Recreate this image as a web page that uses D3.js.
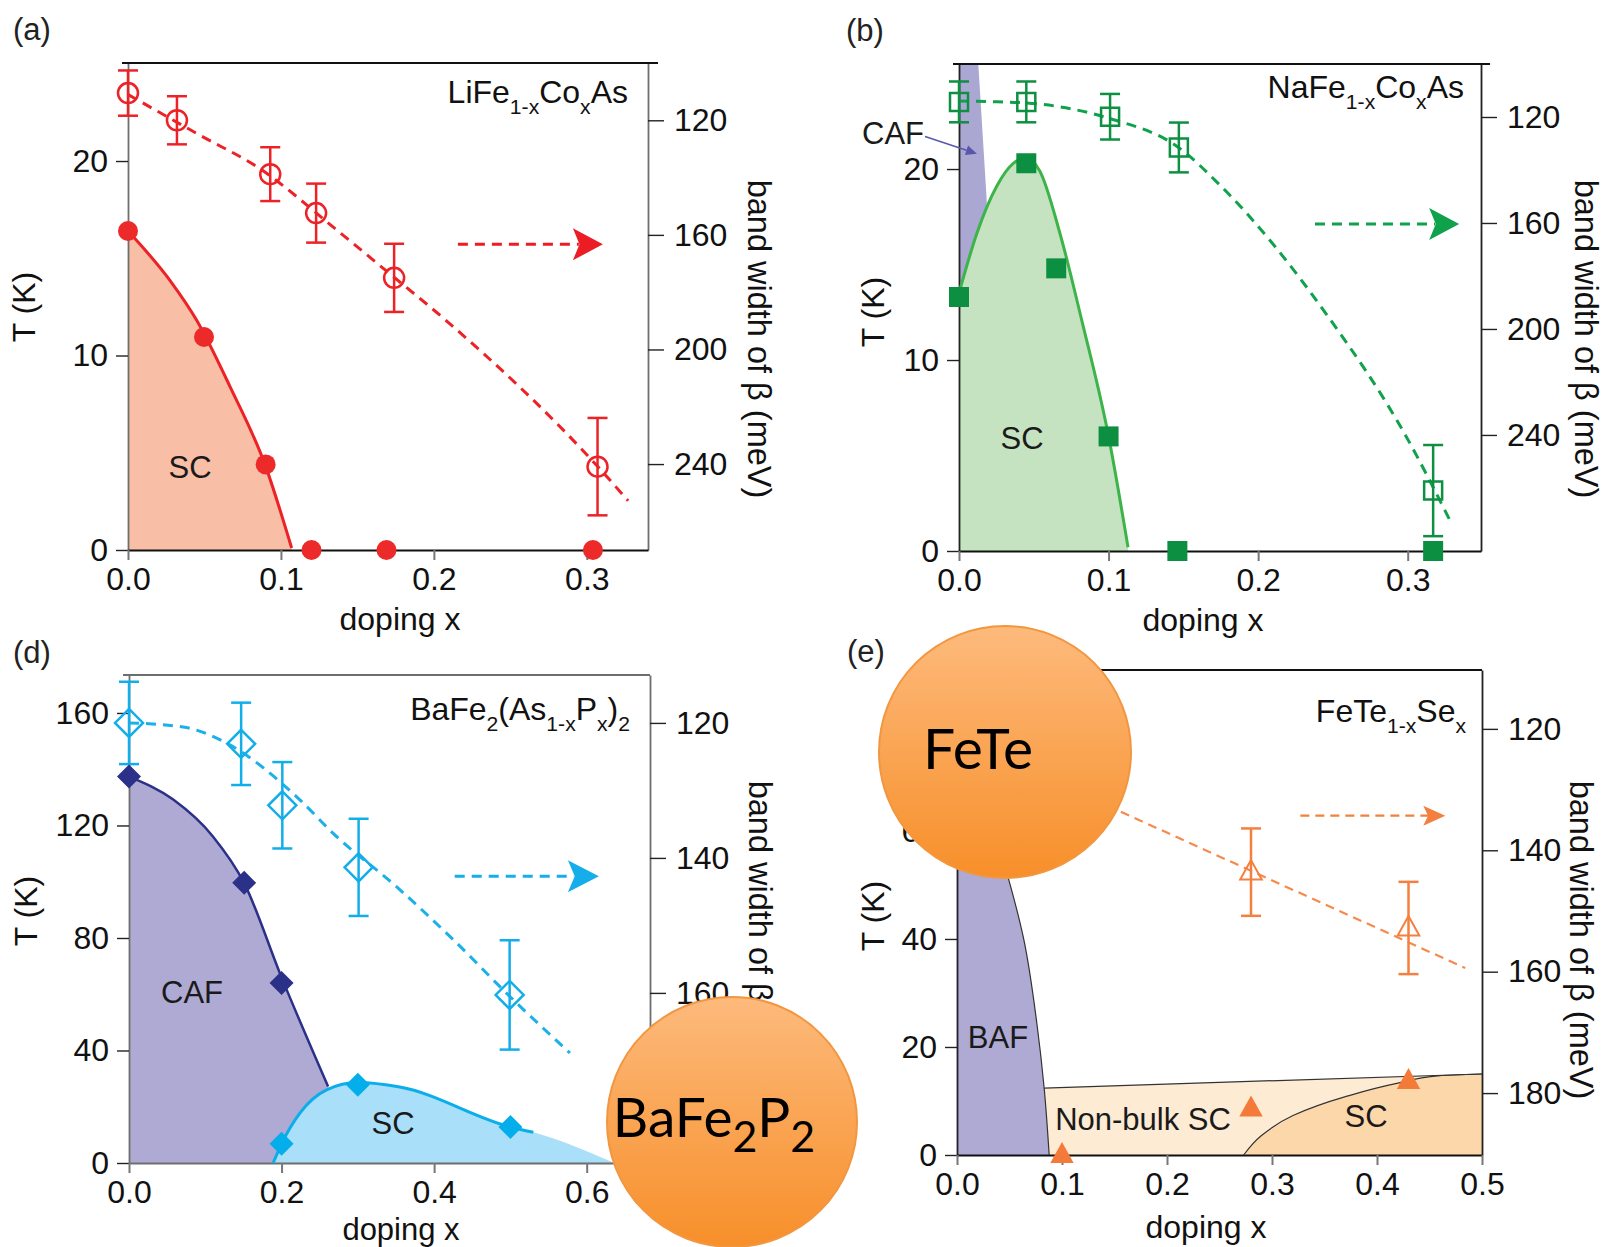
<!DOCTYPE html>
<html>
<head>
<meta charset="utf-8">
<script src="https://cdn.jsdelivr.net/npm/d3@7"></script>
<style>
body { margin: 0; background: #fff; }
text { font-family: "Liberation Sans", Arial, sans-serif; }
</style>
</head>
<body>
<div id="chart"></div>
<script>
// ---------- (a) LiFe1-xCoxAs ----------
var aDopingTc = [0, 0.0497, 0.09, 0.12, 0.169, 0.304];
var aTc = [16.4, 10.95, 4.4, 0, 0, 0];
var aDopingBw = [0, 0.032, 0.093, 0.123, 0.174, 0.307];
var aBw = [110.5, 120, 138.8, 152.4, 175, 240.9];
var aBwErr = [7.9, 8.4, 9.4, 10.3, 11.9, 17];
var aScEdge = [[0, 16.4], [0.028, 13.8], [0.045, 11.8], [0.0667, 8.4], [0.09, 4.3], [0.107, 0.1]];
var aBwFit = [[0, 111], [0.047, 125.2], [0.086, 136.8], [0.134, 157.2], [0.171, 173.5], [0.208, 189.9], [0.307, 240.8], [0.327, 252.8]];

// ---------- (b) NaFe1-xCoxAs ----------
var bDopingTc = [0, 0.045, 0.065, 0.1, 0.146, 0.317];
var bTc = [13.3, 20.3, 14.8, 6.0, 0, 0];
var bDopingBw = [0, 0.045, 0.101, 0.147, 0.317];
var bBw = [114.3, 114.3, 119.9, 131.5, 261];
var bBwErr = [7.7, 7.7, 8.6, 9.4, 17.2];
var bScEdge = [[0, 13.5], [0.0118, 16.6], [0.0252, 19.1], [0.0363, 20.3], [0.0446, 20.56], [0.054, 19.9], [0.0676, 16.6], [0.082, 12.1], [0.1, 6.0], [0.113, 0.2]];
var bCafEdge = [[0, 27], [0.0125, 27], [0.0129, 25.5], [0.0185, 18.4], [0.022, 0], [0, 0]];
var bBwFit = [[0, 114], [0.02, 114.2], [0.045, 114.7], [0.099, 120.3], [0.147, 131.6], [0.175, 146], [0.247, 195.5], [0.298, 239.6], [0.328, 272]];

// ---------- (d) BaFe2(As1-xPx)2 ----------
var dDopingCaf = [0, 0.151, 0.2];
var dTn = [137.4, 99.6, 64];
var dDopingSc = [0.2, 0.3, 0.5];
var dTc = [6.8, 27.8, 12.8];
var dDopingBw = [0, 0.147, 0.201, 0.301, 0.499];
var dBw = [120, 123.1, 132.2, 141.4, 160.3];
var dBwErr = [6.1, 6.1, 6.4, 7.2, 8.1];
var dCafEdge = [[0, 137.4], [0.058, 129.2], [0.11, 116.1], [0.151, 99.5], [0.2, 66], [0.261, 27.2]];
var dCafFoot = [[0.306, 0]];
var dScEdge = [[0.189, 0], [0.2, 6.8], [0.224, 17.7], [0.259, 26], [0.3, 28.6], [0.355, 27], [0.499, 12.9], [0.53, 10.9]];
var dScTail = [[0.636, 0]];
var dBwFit = [[0, 120], [0.071, 120.6], [0.128, 123], [0.224, 131.4], [0.268, 136.4], [0.351, 144.3], [0.425, 152.1], [0.499, 160.5], [0.578, 168.9]];

// ---------- (e) FeTe1-xSex ----------
var eDopingTc = [0.1, 0.28, 0.43];
var eTc = [0, 8.6, 13.7];
var eDopingBw = [0.28, 0.43];
var eBw = [143.6, 152.8];
var eBwErr = [7.2, 7.6];
var eBwFit = [[0, 121.4], [0.484, 159.4]];
var eBafEdge = [[0, 72], [0.025, 66], [0.0488, 51.3], [0.0634, 40.1], [0.0761, 24.3], [0.083, 12.4], [0.0878, 0]];
var eNonBulkTop = [[0.083, 12.4], [0.5, 15]];
var eScEdge = [[0.273, 0], [0.29, 3.6], [0.32, 7.3], [0.37, 10.8], [0.42, 13.3], [0.46, 14.7], [0.5, 15]];

var width = 1605, height = 1247;
var FS = 32;

var svg = d3.select("#chart").append("svg")
	.attr("width", width)
	.attr("height", height);

svg.append("rect").attr("width", width).attr("height", height).attr("fill", "#fff");

var defs = svg.append("defs");
var grad = defs.append("linearGradient")
	.attr("id", "orange")
	.attr("x1", 0).attr("y1", 0).attr("x2", 0).attr("y2", 1);
grad.append("stop").attr("offset", "0%").attr("stop-color", "#fdba7c");
grad.append("stop").attr("offset", "100%").attr("stop-color", "#f78f2a");

function zip(xs, ys) {
	return xs.map(function(d, i) { return [d, ys[i]]; });
}

function makePanel(p) {
	var x = d3.scaleLinear().domain(p.xDomain).range([p.left, p.right]);
	var yT = d3.scaleLinear().domain(p.tDomain).range([p.bottom, p.top]);
	var yB = d3.scaleLinear().domain(p.bwDomain).range([p.top, p.bottom]);
	var g = svg.append("g");
	defs.append("clipPath").attr("id", "clip-" + p.id)
		.append("rect")
		.attr("x", p.left).attr("y", p.top)
		.attr("width", p.right - p.left).attr("height", p.bottom - p.top);
	var fills = g.append("g").attr("clip-path", "url(#clip-" + p.id + ")");
	return { p: p, x: x, yT: yT, yB: yB, g: g, fills: fills };
}

function tLine(pn, curve) {
	return d3.line()
		.x(function(d) { return pn.x(d[0]); })
		.y(function(d) { return pn.yT(d[1]); })
		.curve(curve || d3.curveMonotoneX);
}

function bLine(pn) {
	return d3.line()
		.x(function(d) { return pn.x(d[0]); })
		.y(function(d) { return pn.yB(d[1]); })
		.curve(d3.curveMonotoneX);
}

function tArea(pn, curve) {
	return d3.area()
		.x(function(d) { return pn.x(d[0]); })
		.y0(pn.yT(0))
		.y1(function(d) { return pn.yT(d[1]); })
		.curve(curve || d3.curveMonotoneX);
}

function drawAxes(pn) {
	var p = pn.p;
	var g = pn.g.append("g");

	var left = g.append("g").attr("transform", "translate(" + p.left + ",0)");
	left.call(d3.axisLeft(pn.yT).tickValues(p.tMinor).tickSize(9).tickSizeOuter(0).tickFormat(""));
	left.call(d3.axisLeft(pn.yT).tickValues(p.tMajor).tickSize(12).tickSizeOuter(0).tickPadding(8));

	var right = g.append("g").attr("transform", "translate(" + p.right + ",0)");
	right.call(d3.axisRight(pn.yB).tickValues(p.bwMinor).tickSize(10).tickSizeOuter(0).tickFormat(""));
	right.call(d3.axisRight(pn.yB).tickValues(p.bwMajor).tickSize(16).tickSizeOuter(0).tickPadding(10));

	var bottom = g.append("g").attr("transform", "translate(0," + p.bottom + ")");
	bottom.call(d3.axisBottom(pn.x).tickValues(p.xTicks).tickSize(10).tickSizeOuter(0)
		.tickPadding(7).tickFormat(d3.format(".1f")));

	g.selectAll(".domain").attr("stroke", p.axisColor).attr("stroke-width", 1.8);
	g.selectAll(".tick line").attr("stroke", "#222").attr("stroke-width", 1.4);
	bottom.selectAll(".tick line").attr("stroke", "#777").attr("stroke-width", 2);
	bottom.select(".domain").attr("stroke", p.bottomColor);
	g.selectAll("text").attr("font-size", FS).attr("fill", "#111");

	g.append("line")
		.attr("x1", p.left - 6).attr("x2", p.right + p.topExtra)
		.attr("y1", p.top).attr("y2", p.top)
		.attr("stroke", p.topColor).attr("stroke-width", 1.8);

	// axis titles
	g.append("text")
		.attr("transform", "translate(" + p.tLabel[0] + "," + p.tLabel[1] + ") rotate(-90)")
		.attr("text-anchor", "middle").attr("dy", "0.35em")
		.attr("font-size", FS).attr("fill", "#111")
		.text("T (K)");
	g.append("text")
		.attr("x", p.xLabel[0]).attr("y", p.xLabel[1])
		.attr("text-anchor", "middle")
		.attr("font-size", p.xLabel[2] || FS).attr("fill", "#111")
		.text("doping x");
	g.append("text")
		.attr("transform", "translate(" + p.bwLabel[0] + "," + p.bwLabel[1] + ") rotate(90)")
		.attr("text-anchor", "middle").attr("dy", "0.35em")
		.attr("font-size", 32.5).attr("fill", "#111")
		.text("band width of β (meV)");
	g.append("text")
		.attr("x", p.letter[0]).attr("y", p.letter[1])
		.attr("font-size", 31).attr("fill", "#222")
		.text(p.letterText);
}

function richText(sel, x, y, parts, size, anchor) {
	var t = sel.append("text")
		.attr("x", x).attr("y", y)
		.attr("text-anchor", anchor || "end")
		.attr("font-size", size).attr("fill", "#111");
	var shifted = false;
	parts.forEach(function(part) {
		var ts = t.append("tspan").text(part[0]);
		if (part[1] && !shifted) {
			ts.attr("dy", size * 0.33).attr("font-size", size * 0.66);
			shifted = true;
		} else if (part[1]) {
			ts.attr("font-size", size * 0.66);
		} else if (shifted) {
			ts.attr("dy", -size * 0.33);
			shifted = false;
		}
	});
	return t;
}

function label(sel, x, y, txt, size) {
	sel.append("text")
		.attr("x", x).attr("y", y)
		.attr("text-anchor", "middle").attr("dy", "0.35em")
		.attr("font-size", size || 31).attr("fill", "#1a1a1a")
		.text(txt);
}

function shapePath(shape, cx, cy, r) {
	if (shape === "diamond") {
		return "M" + cx + "," + (cy - r) + "L" + (cx + r) + "," + cy + "L" + cx + "," + (cy + r) + "L" + (cx - r) + "," + cy + "Z";
	}
	if (shape === "triangle") {
		return "M" + cx + "," + (cy - r) + "L" + (cx + r * 0.9) + "," + (cy + r * 0.62) + "L" + (cx - r * 0.9) + "," + (cy + r * 0.62) + "Z";
	}
	if (shape === "square") {
		return "M" + (cx - r) + "," + (cy - r) + "h" + (2 * r) + "v" + (2 * r) + "h" + (-2 * r) + "Z";
	}
	// circle
	return "M" + (cx - r) + "," + cy + "a" + r + "," + r + " 0 1,0 " + (2 * r) + ",0a" + r + "," + r + " 0 1,0 " + (-2 * r) + ",0";
}

function markers(pn, data, yScale, shape, r, color, filled, sw) {
	pn.g.append("g").selectAll("path")
		.data(data)
		.enter().append("path")
		.attr("d", function(d) {
			return shapePath(shape, pn.x(d[0]), yScale(d[1]), r);
		})
		.attr("fill", filled ? color : "none")
		.attr("stroke", filled ? "none" : color)
		.attr("stroke-width", sw || 2.5);
}

function errorBars(pn, xs, ys, errs, color, cap) {
	var g = pn.g.append("g").attr("stroke", color).attr("stroke-width", 2.5);
	xs.forEach(function(xv, i) {
		var cx = pn.x(xv);
		var y0 = pn.yB(ys[i] - errs[i]), y1 = pn.yB(ys[i] + errs[i]);
		g.append("line").attr("x1", cx).attr("x2", cx).attr("y1", y0).attr("y2", y1);
		g.append("line").attr("x1", cx - cap).attr("x2", cx + cap).attr("y1", y0).attr("y2", y0);
		g.append("line").attr("x1", cx - cap).attr("x2", cx + cap).attr("y1", y1).attr("y2", y1);
	});
}

function arrow(pn, x0, x1, bw, color, len, half, sw, dash) {
	var y = pn.yB(bw), xs = pn.x(x0), xe = pn.x(x1);
	pn.g.append("line")
		.attr("x1", xs).attr("x2", xe - len + 6)
		.attr("y1", y).attr("y2", y)
		.attr("stroke", color).attr("stroke-width", sw)
		.attr("stroke-dasharray", dash);
	pn.g.append("path")
		.attr("d", "M" + xe + "," + y + "L" + (xe - len) + "," + (y - half) + "L" + (xe - len * 0.78) + "," + y + "L" + (xe - len) + "," + (y + half) + "Z")
		.attr("fill", color);
}

function dashed(pn, pts, color, sw, dash) {
	pn.g.append("path")
		.attr("d", bLine(pn)(pts))
		.attr("fill", "none").attr("stroke", color)
		.attr("stroke-width", sw).attr("stroke-dasharray", dash);
}

// ================= panel (a) =================
var pa = makePanel({
	id: "a", left: 128, right: 648, top: 63, bottom: 550,
	xDomain: [0, 0.34], tDomain: [0, 25.04], bwDomain: [100, 270],
	tMajor: [0, 10, 20], tMinor: [5, 15],
	bwMajor: [120, 160, 200, 240], bwMinor: [140, 180, 220, 260],
	xTicks: [0, 0.1, 0.2, 0.3],
	axisColor: "#6e6e6e", bottomColor: "#111", topColor: "#111", topExtra: 10,
	tLabel: [24, 307], xLabel: [400, 630], bwLabel: [759, 339],
	letter: [13, 40], letterText: "(a)"
});
pa.fills.append("path").attr("d", tArea(pa)(aScEdge)).attr("fill", "#f8bea6");
drawAxes(pa);
pa.g.append("path").attr("d", tLine(pa)(aScEdge)).attr("fill", "none").attr("stroke", "#ec2227").attr("stroke-width", 3);
dashed(pa, aBwFit, "#ec2227", 3, "10,7");
arrow(pa, 0.2157, 0.3105, 163.3, "#ec1c24", 30, 16, 3, "10,7");
errorBars(pa, aDopingBw, aBw, aBwErr, "#ec2227", 10);
markers(pa, zip(aDopingBw, aBw), pa.yB, "circle", 10, "#ec2227", false);
markers(pa, zip(aDopingTc, aTc), pa.yT, "circle", 10, "#ec2a2a", true);
richText(pa.g, 628, 103, [["LiFe", 0], ["1-x", 1], ["Co", 0], ["x", 1], ["As", 0]], 32);
label(pa.g, 190, 467, "SC");

// ================= panel (b) =================
var pb = makePanel({
	id: "b", left: 959, right: 1481, top: 64, bottom: 551,
	xDomain: [0, 0.349], tDomain: [0, 25.5], bwDomain: [100, 283.8],
	tMajor: [0, 10, 20], tMinor: [5, 15, 25],
	bwMajor: [120, 160, 200, 240], bwMinor: [140, 180, 220, 260],
	xTicks: [0, 0.1, 0.2, 0.3],
	axisColor: "#222", bottomColor: "#111", topColor: "#111", topExtra: 9,
	tLabel: [873, 312], xLabel: [1203, 631], bwLabel: [1586, 339],
	letter: [846, 41], letterText: "(b)"
});
pb.fills.append("path").attr("d", tLine(pb, d3.curveLinear)(bCafEdge)).attr("fill", "#aba7d3");
pb.fills.append("path").attr("d", tArea(pb)(bScEdge)).attr("fill", "#c6e3c1");
drawAxes(pb);
pb.g.append("path").attr("d", tLine(pb)(bScEdge)).attr("fill", "none").attr("stroke", "#3cb44a").attr("stroke-width", 3);
dashed(pb, bBwFit, "#0fa14c", 3, "10,7");
arrow(pb, 0.238, 0.3344, 160.4, "#0fa14c", 30, 16, 3, "10,7");
errorBars(pb, bDopingBw, bBw, bBwErr, "#0e8f42", 10);
markers(pb, zip(bDopingBw, bBw), pb.yB, "square", 9, "#0e8f42", false);
markers(pb, zip(bDopingTc, bTc), pb.yT, "square", 10, "#0d8f41", true);
richText(pb.g, 1464, 98, [["NaFe", 0], ["1-x", 1], ["Co", 0], ["x", 1], ["As", 0]], 32);
label(pb.g, 1022, 438, "SC");
label(pb.g, 893, 133, "CAF");
// CAF pointer
(function() {
	var x0 = pb.x(-0.0227), y0 = pb.yT(21.7), x1 = pb.x(0.012), y1 = pb.yT(20.8);
	var ang = Math.atan2(y1 - y0, x1 - x0), L = 11, H = 5;
	pb.g.append("line").attr("x1", x0).attr("y1", y0).attr("x2", x1 - L * Math.cos(ang)).attr("y2", y1 - L * Math.sin(ang))
		.attr("stroke", "#5a57ab").attr("stroke-width", 1.5);
	pb.g.append("path")
		.attr("d", "M" + x1 + "," + y1 +
			"L" + (x1 - L * Math.cos(ang) + H * Math.sin(ang)) + "," + (y1 - L * Math.sin(ang) - H * Math.cos(ang)) +
			"L" + (x1 - L * Math.cos(ang) - H * Math.sin(ang)) + "," + (y1 - L * Math.sin(ang) + H * Math.cos(ang)) + "Z")
		.attr("fill", "#5a57ab");
})();

// ================= panel (d) =================
var pd = makePanel({
	id: "d", left: 129, right: 650, top: 675, bottom: 1163,
	xDomain: [0, 0.683], tDomain: [0, 173.5], bwDomain: [112.9, 185.2],
	tMajor: [0, 40, 80, 120, 160], tMinor: [20, 60, 100, 140],
	bwMajor: [120, 140, 160, 180], bwMinor: [130, 150, 170],
	xTicks: [0, 0.2, 0.4, 0.6],
	axisColor: "#6e6e6e", bottomColor: "#6e6e6e", topColor: "#6e6e6e", topExtra: 0,
	tLabel: [26, 911], xLabel: [401, 1240, 31], bwLabel: [760, 940],
	letter: [13, 663], letterText: "(d)"
});
pd.fills.append("path").attr("d", tArea(pd)(dCafEdge.concat(dCafFoot))).attr("fill", "#aeaad3");
pd.fills.append("path").attr("d", tArea(pd)(dScEdge.concat(dScTail))).attr("fill", "#a9dff8");
drawAxes(pd);
pd.g.append("path").attr("d", tLine(pd)(dCafEdge)).attr("fill", "none").attr("stroke", "#2b3088").attr("stroke-width", 2.5);
pd.g.append("path").attr("d", tLine(pd)(dScEdge)).attr("fill", "none").attr("stroke", "#0aaeea").attr("stroke-width", 3);
dashed(pd, dBwFit, "#1cb0ea", 3, "10,7");
arrow(pd, 0.427, 0.616, 142.7, "#16aeea", 31, 16, 3, "10,7");
errorBars(pd, dDopingBw, dBw, dBwErr, "#12aeea", 10);
markers(pd, zip(dDopingBw, dBw), pd.yB, "diamond", 14, "#12aeea", false);
markers(pd, zip(dDopingCaf, dTn), pd.yT, "diamond", 12, "#2b3088", true);
markers(pd, zip(dDopingSc, dTc), pd.yT, "diamond", 12, "#04aeea", true);
richText(pd.g, 630, 720, [["BaFe", 0], ["2", 1], ["(As", 0], ["1-x", 1], ["P", 0], ["x", 1], [")", 0], ["2", 1]], 32);
label(pd.g, 192, 992, "CAF");
label(pd.g, 393, 1123, "SC");

// ================= panel (e) =================
var pe = makePanel({
	id: "e", left: 957, right: 1482, top: 670, bottom: 1155,
	xDomain: [0, 0.5], tDomain: [0, 89.8], bwDomain: [110.3, 190.2],
	tMajor: [0, 20, 40, 60, 80], tMinor: [10, 30, 50, 70],
	bwMajor: [120, 140, 160, 180], bwMinor: [130, 150, 170],
	xTicks: [0, 0.1, 0.2, 0.3, 0.4, 0.5],
	axisColor: "#222", bottomColor: "#111", topColor: "#111", topExtra: 0,
	tLabel: [873, 916], xLabel: [1206, 1238], bwLabel: [1581, 940],
	letter: [847, 662], letterText: "(e)"
});
pe.fills.append("path").attr("d", tArea(pe, d3.curveLinear)(eNonBulkTop.concat([[0.5, 15]]))).attr("fill", "#fdebd3");
pe.fills.append("path").attr("d", tLine(pe, d3.curveLinear)(eScEdge.concat([[0.5, 0]]))).attr("fill", "#fcd7a9");
pe.fills.append("path").attr("d", tArea(pe, d3.curveMonotoneY)(eBafEdge)).attr("fill", "#aeaad3");
drawAxes(pe);
pe.g.append("path").attr("d", tLine(pe, d3.curveMonotoneY)(eBafEdge)).attr("fill", "none").attr("stroke", "#333").attr("stroke-width", 1.2);
pe.g.append("path").attr("d", tLine(pe, d3.curveLinear)(eNonBulkTop)).attr("fill", "none").attr("stroke", "#333").attr("stroke-width", 1.2);
pe.g.append("path").attr("d", tLine(pe, d3.curveMonotoneY)(eScEdge)).attr("fill", "none").attr("stroke", "#333").attr("stroke-width", 1.2);
dashed(pe, eBwFit, "#f58a4c", 2.2, "9,6");
arrow(pe, 0.327, 0.465, 134.3, "#f47f3e", 22, 10, 2.2, "9,6");
errorBars(pe, eDopingBw, eBw, eBwErr, "#f47f3e", 10);
markers(pe, zip(eDopingBw, eBw), pe.yB, "triangle", 12, "#f47f3e", false, 2);
markers(pe, zip(eDopingTc, eTc), pe.yT, "triangle", 13, "#f47a3a", true);
richText(pe.g, 1466, 722, [["FeTe", 0], ["1-x", 1], ["Se", 0], ["x", 1]], 32);
label(pe.g, 998, 1037, "BAF");
label(pe.g, 1143, 1119, "Non-bulk SC");
label(pe.g, 1366, 1116, "SC");

// ================= orange badges =================
function badge(cx, cy, r, parts, size, tx, ty) {
	svg.append("circle")
		.attr("cx", cx).attr("cy", cy).attr("r", r)
		.attr("fill", "url(#orange)")
		.attr("stroke", "#f2963f").attr("stroke-width", 2);
	var t = svg.append("text")
		.attr("x", tx).attr("y", ty)
		.attr("text-anchor", "middle")
		.style("font-family", "Lato, 'Open Sans', sans-serif")
		.attr("font-size", size).attr("fill", "#000");
	var down = false;
	parts.forEach(function(part) {
		var ts = t.append("tspan").text(part[0]).style("font-family", "Lato, 'Open Sans', sans-serif");
		if (part[1]) {
			ts.attr("font-size", size * 0.78).attr("dy", down ? 0 : size * 0.28);
			down = true;
		} else if (down) {
			ts.attr("dy", -size * 0.28);
			down = false;
		}
	});
}
badge(732, 1122, 125, [["BaFe", 0], ["2", 1], ["P", 0], ["2", 1]], 55, 714, 1137);
badge(1005, 752, 126, [["FeTe", 0]], 57, 978, 769);
</script>
</body>
</html>
